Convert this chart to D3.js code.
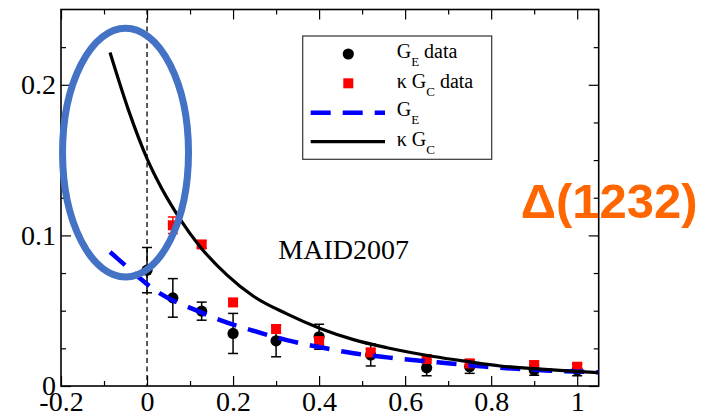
<!DOCTYPE html>
<html>
<head>
<meta charset="utf-8">
<script src="https://cdn.jsdelivr.net/npm/d3@7"></script>
<style>
  html, body { margin: 0; padding: 0; background: #fff; }
  svg { display: block; }
</style>
</head>
<body>
<svg id="chart" width="706" height="414"></svg>
<script>
// Axis ticks
const xMajor = [-0.2, 0, 0.2, 0.4, 0.6, 0.8, 1.0];
const xMajorLabels = ["-0.2", "0", "0.2", "0.4", "0.6", "0.8", "1"];
const xMinor = [-0.1, 0.1, 0.3, 0.5, 0.7, 0.9];
const yMajor = [0, 0.1, 0.2];
const yMajorLabels = ["0", "0.1", "0.2"];
const yMinor = [0.025, 0.05, 0.075, 0.125, 0.15, 0.175, 0.225];

// G_E data (Q^2 in GeV^2)
const geQ2 = [0, 0.06, 0.127, 0.2, 0.3, 0.4, 0.52, 0.65, 0.75, 0.9, 1.0];
const geVal = [0.0769, 0.0585, 0.0497, 0.0349, 0.0300, 0.0327, 0.0206, 0.0121, 0.0128, 0.0106, 0.0106];
const geErr = [0.0150, 0.0128, 0.0060, 0.0133, 0.0106, 0.0083, 0.0073, 0.0053, 0.0044, 0.0034, 0.0038];

// kappa G_C data
const gcQ2 = [0.06, 0.127, 0.2, 0.3, 0.4, 0.52, 0.65, 0.75, 0.9, 1.0];
const gcVal = [0.1067, 0.0940, 0.0555, 0.0378, 0.0298, 0.0223, 0.0179, 0.0150, 0.0139, 0.0128];
const gcErr = [0.0055, 0.0025, 0.0025, 0.0025, 0.0025, 0.0025, 0.0025, 0.0025, 0.0025, 0.0025];

// MAID2007 G_E curve
const geCurveQ2 = [-0.086, -0.051, -0.016, 0.007, 0.03, 0.119, 0.17, 0.247, 0.325, 0.403, 0.48, 0.558, 0.635, 0.705, 0.783, 0.86, 0.938, 1.05];
const geCurve = [0.0890, 0.0802, 0.0714, 0.0660, 0.0615, 0.0497, 0.0438, 0.0367, 0.0305, 0.0257, 0.0217, 0.0190, 0.0168, 0.0150, 0.0129, 0.0114, 0.0102, 0.0091];

// MAID2007 kappa G_C curve
const gcCurveQ2 = [-0.086, -0.0435, 0, 0.0226, 0.0768, 0.1233, 0.1855, 0.2474, 0.325, 0.4026, 0.48, 0.558, 0.666, 0.744, 0.8215, 0.899, 0.977, 1.05];
const gcCurve = [0.2214, 0.1835, 0.1510, 0.1374, 0.1108, 0.0925, 0.0738, 0.0596, 0.0479, 0.0382, 0.0308, 0.0254, 0.0196, 0.0163, 0.0133, 0.0115, 0.0100, 0.0089];

// Highlighted low-Q^2 region (centre and half-widths in data units)
const ringCenter = [-0.05, 0.155];
const ringRadii = [0.1464, 0.0826];

const serif = "'Liberation Serif', 'Times New Roman', serif";
const svg = d3.select("#chart");
const plotL = 61, plotR = 598.7, plotT = 9.5, plotB = 386;

const x = d3.scaleLinear().domain([-0.2, 1.05]).range([plotL, plotR]);
const y = d3.scaleLinear().domain([0, 0.25]).range([plotB, plotT]);

// Axes: ticks point inward on all four sides
function styleAxis(g) {
  g.select(".domain").remove();
  g.attr("font-family", serif).attr("font-size", 28);
  g.selectAll(".tick line").attr("stroke", "#000").attr("stroke-width", 1.2);
  g.selectAll(".tick text").attr("fill", "#000");
}

svg.append("g").attr("transform", `translate(0,${plotB})`)
  .call(d3.axisBottom(x).tickValues(xMajor).tickSize(-10).tickPadding(5)
    .tickFormat((d, i) => xMajorLabels[i])).call(styleAxis);
svg.append("g").attr("transform", `translate(0,${plotB})`)
  .call(d3.axisBottom(x).tickValues(xMinor).tickSize(-5).tickFormat("")).call(styleAxis);
svg.append("g").attr("transform", `translate(0,${plotT})`)
  .call(d3.axisTop(x).tickValues(xMajor).tickSize(-10).tickFormat("")).call(styleAxis);
svg.append("g").attr("transform", `translate(0,${plotT})`)
  .call(d3.axisTop(x).tickValues(xMinor).tickSize(-5).tickFormat("")).call(styleAxis);

svg.append("g").attr("transform", `translate(${plotL},0)`)
  .call(d3.axisLeft(y).tickValues(yMajor).tickSize(-10).tickPadding(5)
    .tickFormat((d, i) => yMajorLabels[i])).call(styleAxis);
svg.append("g").attr("transform", `translate(${plotL},0)`)
  .call(d3.axisLeft(y).tickValues(yMinor).tickSize(-5).tickFormat("")).call(styleAxis);
svg.append("g").attr("transform", `translate(${plotR},0)`)
  .call(d3.axisRight(y).tickValues(yMajor).tickSize(-10).tickFormat("")).call(styleAxis);
svg.append("g").attr("transform", `translate(${plotR},0)`)
  .call(d3.axisRight(y).tickValues(yMinor).tickSize(-5).tickFormat("")).call(styleAxis);

// Frame
svg.append("rect")
  .attr("x", plotL).attr("y", plotT)
  .attr("width", plotR - plotL).attr("height", plotB - plotT)
  .attr("fill", "none").attr("stroke", "#000").attr("stroke-width", 1.6);

// Q^2 = 0 guide
svg.append("line")
  .attr("x1", x(0)).attr("x2", x(0)).attr("y1", plotT).attr("y2", plotB)
  .attr("stroke", "#000").attr("stroke-width", 1.3).attr("stroke-dasharray", "5,3.5");

svg.append("clipPath").attr("id", "plot-clip")
  .append("rect").attr("x", plotL).attr("y", plotT)
  .attr("width", plotR - plotL).attr("height", plotB - plotT);

const plot = svg.append("g").attr("clip-path", "url(#plot-clip)");

// Error bars helper
function errorBars(g, xs, vals, errs, color) {
  const cap = 5;
  xs.forEach((q, i) => {
    const cx = x(q), y0 = y(vals[i] - errs[i]), y1 = y(vals[i] + errs[i]);
    g.append("line").attr("x1", cx).attr("x2", cx).attr("y1", y0).attr("y2", y1)
      .attr("stroke", color).attr("stroke-width", 1.5);
    [y0, y1].forEach(yy => g.append("line")
      .attr("x1", cx - cap).attr("x2", cx + cap).attr("y1", yy).attr("y2", yy)
      .attr("stroke", color).attr("stroke-width", 1.5));
  });
}

// G_E data points
const geG = plot.append("g");
errorBars(geG, geQ2, geVal, geErr, "#000");
geG.selectAll("circle").data(geQ2).join("circle")
  .attr("cx", d => x(d)).attr("cy", (d, i) => y(geVal[i]))
  .attr("r", 5.6).attr("fill", "#000");

// kappa G_C data points
const gcG = plot.append("g");
errorBars(gcG, gcQ2, gcVal, gcErr, "#ff0000");
gcG.selectAll("rect").data(gcQ2).join("rect")
  .attr("x", d => x(d) - 5).attr("y", (d, i) => y(gcVal[i]) - 5)
  .attr("width", 10).attr("height", 10).attr("fill", "#ff0000");

// Model curves
const line = d3.line().x(d => x(d[0])).y(d => y(d[1])).curve(d3.curveMonotoneX);

plot.append("path")
  .datum(geCurveQ2.map((q, i) => [q, geCurve[i]]))
  .attr("d", line).attr("fill", "none")
  .attr("stroke", "#0000ff").attr("stroke-width", 4.5)
  .attr("stroke-dasharray", "20,12");

plot.append("path")
  .datum(gcCurveQ2.map((q, i) => [q, gcCurve[i]]))
  .attr("d", line).attr("fill", "none")
  .attr("stroke", "#000").attr("stroke-width", 3.2);

// Highlight ring around the low-Q^2 region
svg.append("ellipse")
  .attr("cx", x(ringCenter[0])).attr("cy", y(ringCenter[1]))
  .attr("rx", x(ringCenter[0] + ringRadii[0]) - x(ringCenter[0]))
  .attr("ry", y(ringCenter[1] - ringRadii[1]) - y(ringCenter[1]))
  .attr("fill", "none").attr("stroke", "#4472c4").attr("stroke-width", 7);

// Legend
const lg = svg.append("g");
lg.append("rect").attr("x", 302.7).attr("y", 36).attr("width", 189).attr("height", 123.3)
  .attr("fill", "#fff").attr("stroke", "#333").attr("stroke-width", 1.2);

lg.append("circle").attr("cx", 348.3).attr("cy", 54).attr("r", 5.6).attr("fill", "#000");
lg.append("rect").attr("x", 343.3).attr("y", 78.3).attr("width", 10).attr("height", 10).attr("fill", "#ff0000");
lg.append("line").attr("x1", 310.7).attr("x2", 385).attr("y1", 112.7).attr("y2", 112.7)
  .attr("stroke", "#0000ff").attr("stroke-width", 4.5).attr("stroke-dasharray", "20,12");
lg.append("line").attr("x1", 310.7).attr("x2", 385).attr("y1", 141.7).attr("y2", 141.7)
  .attr("stroke", "#000").attr("stroke-width", 3.2);

const legendRows = [
  { pre: "", sub: "E", post: " data", base: 58 },
  { pre: "κ ", sub: "C", post: " data", base: 87.5 },
  { pre: "", sub: "E", post: "", base: 116 },
  { pre: "κ ", sub: "C", post: "", base: 145.5 }
];
legendRows.forEach(r => {
  const t = lg.append("text").attr("x", 396.7).attr("y", r.base)
    .attr("font-family", serif).attr("font-size", 20).attr("fill", "#000");
  t.append("tspan").text(r.pre + "G");
  t.append("tspan").attr("font-size", 13).attr("dy", 8).text(r.sub);
  if (r.post) t.append("tspan").attr("dy", -8).text(r.post);
});

// Model label
svg.append("text").attr("x", 278.3).attr("y", 259)
  .attr("font-family", serif).attr("font-size", 28).attr("fill", "#000")
  .text("MAID2007");

// Resonance label
svg.append("text").attr("x", 520.7).attr("y", 218.3)
  .attr("font-family", "'Liberation Sans', Arial, sans-serif")
  .attr("font-weight", "bold").attr("font-size", 49).attr("fill", "#ff6600")
  .text("Δ(1232)");
</script>
</body>
</html>
